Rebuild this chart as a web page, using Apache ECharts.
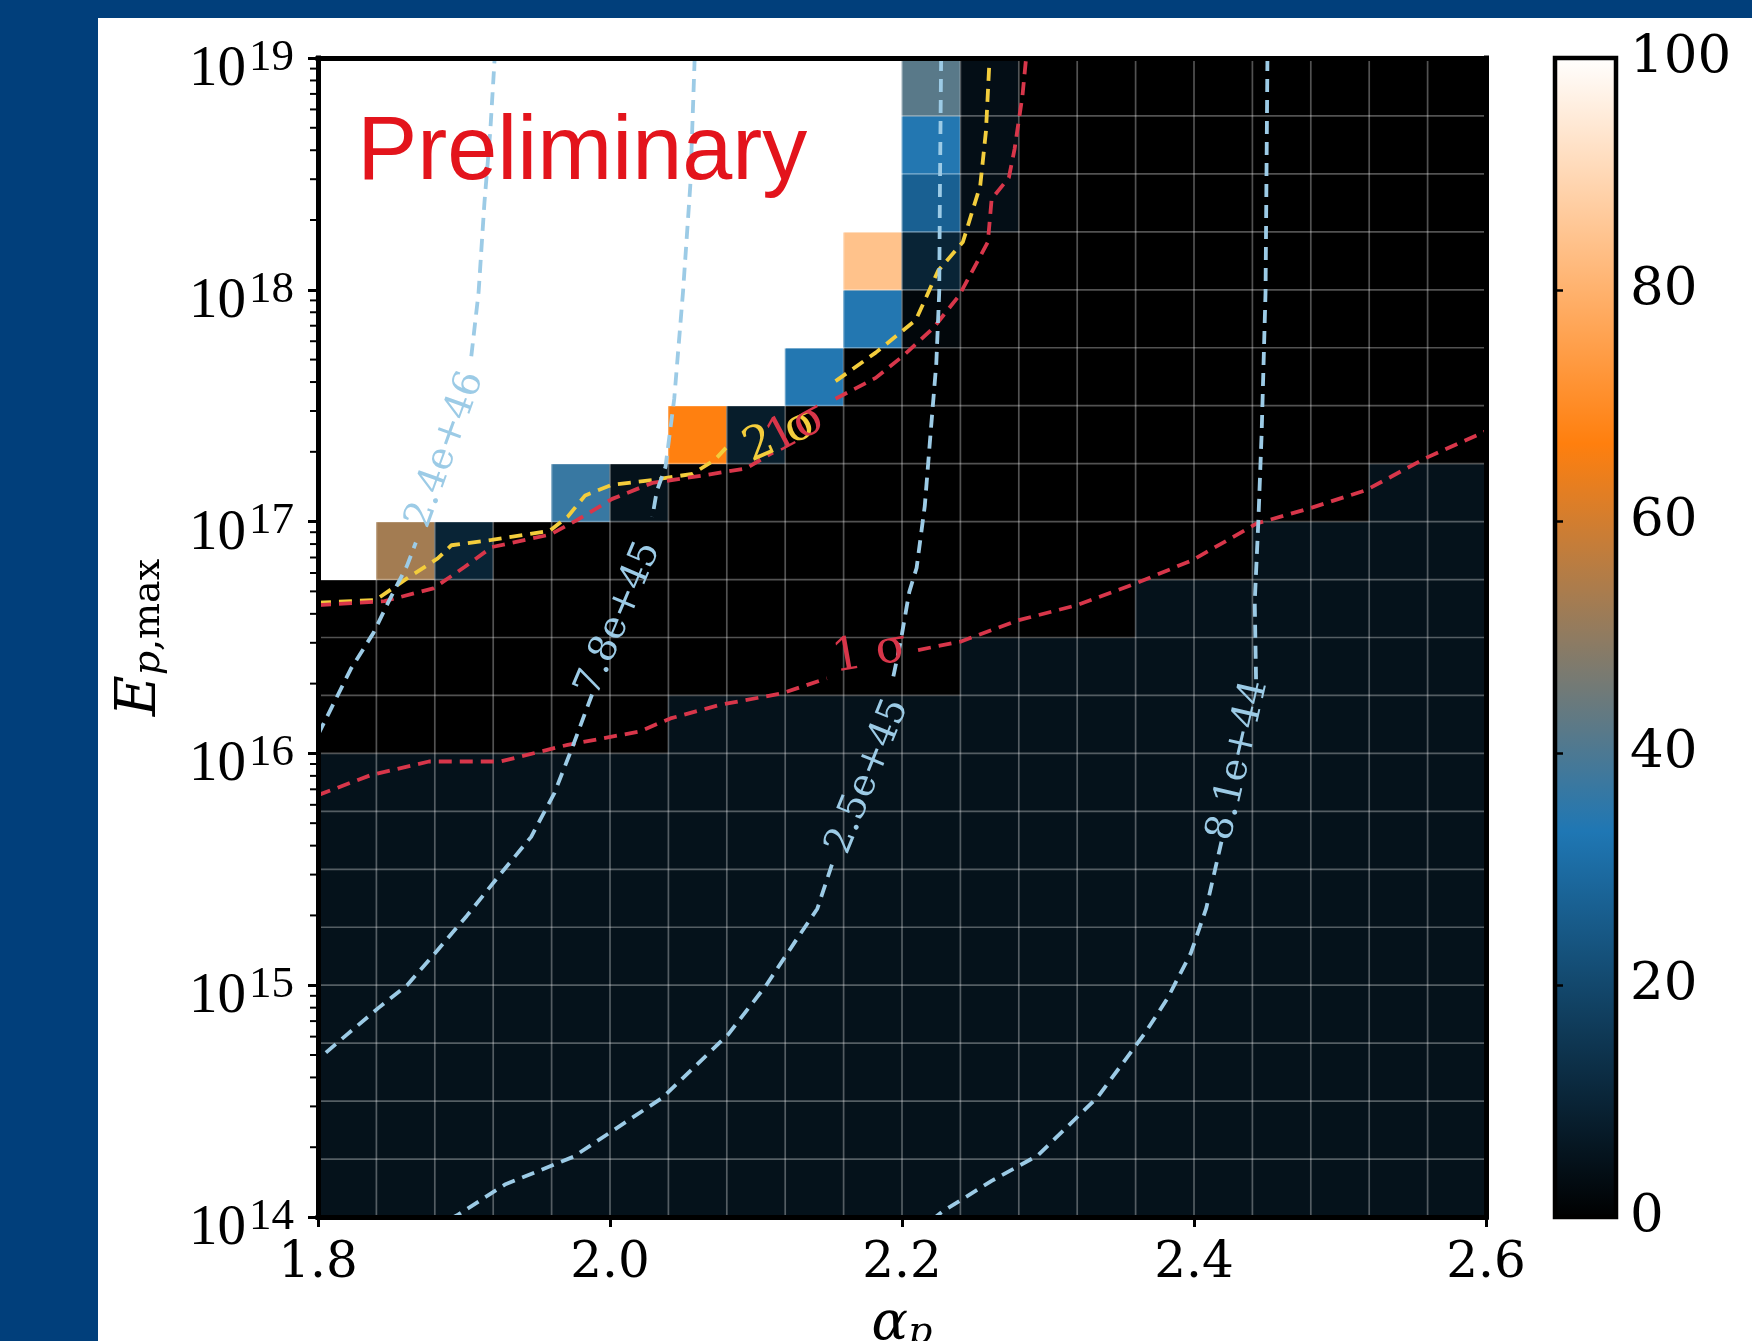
<!DOCTYPE html>
<html><head><meta charset="utf-8">
<script src="https://cdn.jsdelivr.net/npm/echarts@6/dist/echarts.min.js"></script>
<style>
html,body{margin:0;padding:0;width:1752px;height:1341px;background:#013f7b;overflow:hidden;}
#chart{position:absolute;left:98px;top:18px;width:1654px;height:1323px;background:#ffffff;}
</style></head><body><div id="chart"></div>
<script>
// ---------------- data ----------------
const alphaCenters = [1.82,1.86,1.90,1.94,1.98,2.02,2.06,2.10,2.14,2.18,2.22,2.26,2.30,2.34,2.38,2.42,2.46,2.50,2.54,2.58];
const logECenters = [14.125,14.375,14.625,14.875,15.125,15.375,15.625,15.875,16.125,16.375,16.625,16.875,17.125,17.375,17.625,17.875,18.125,18.375,18.625,18.875];
// rows listed from top (logE 18.875) to bottom (logE 14.125), columns alpha 1.82 .. 2.58
const cellValues = [
  [100,100,100,100,100,100,100,100,100,100,42,4,0,0,0,0,0,0,0,0],
  [100,100,100,100,100,100,100,100,100,100,34,4,0,0,0,0,0,0,0,0],
  [100,100,100,100,100,100,100,100,100,100,27,4,0,0,0,0,0,0,0,0],
  [100,100,100,100,100,100,100,100,100,84,10,0,0,0,0,0,0,0,0,0],
  [100,100,100,100,100,100,100,100,100,34,2,0,0,0,0,0,0,0,0,0],
  [100,100,100,100,100,100,100,100,34,0,0,0,0,0,0,0,0,0,0,0],
  [100,100,100,100,100,100,67,8,0,0,0,0,0,0,0,0,0,0,0,0],
  [100,100,100,100,37,5,0,0,0,0,0,0,0,0,0,0,0,0,5,5],
  [100,53,10,0,0,0,0,0,0,0,0,0,0,0,0,0,5,5,5,5],
  [0,0,0,0,0,0,0,0,0,0,0,0,0,0,5,5,5,5,5,5],
  [0,0,0,0,0,0,0,0,0,0,0,5,5,5,5,5,5,5,5,5],
  [0,0,0,0,0,0,5,5,5,5,5,5,5,5,5,5,5,5,5,5],
  [5,5,5,5,5,5,5,5,5,5,5,5,5,5,5,5,5,5,5,5],
  [5,5,5,5,5,5,5,5,5,5,5,5,5,5,5,5,5,5,5,5],
  [5,5,5,5,5,5,5,5,5,5,5,5,5,5,5,5,5,5,5,5],
  [5,5,5,5,5,5,5,5,5,5,5,5,5,5,5,5,5,5,5,5],
  [5,5,5,5,5,5,5,5,5,5,5,5,5,5,5,5,5,5,5,5],
  [5,5,5,5,5,5,5,5,5,5,5,5,5,5,5,5,5,5,5,5],
  [5,5,5,5,5,5,5,5,5,5,5,5,5,5,5,5,5,5,5,5],
  [5,5,5,5,5,5,5,5,5,5,5,5,5,5,5,5,5,5,5,5]
];
const alphaEdges = [1.84,1.88,1.92,1.96,2.00,2.04,2.08,2.12,2.16,2.20,2.24,2.28,2.32,2.36,2.40,2.44,2.48,2.52,2.56];
const logEEdges = [14.25,14.5,14.75,15,15.25,15.5,15.75,16,16.25,16.5,16.75,17,17.25,17.5,17.75,18,18.25,18.5,18.75];
const xTicks = [1.8,2.0,2.2,2.4,2.6];
const yDecades = [14,15,16,17,18,19];
const minorMultipliers = [2,3,4,5,6,7,8,9];
const colorbarTicks = [0,20,40,60,80,100];

// iso-contours (alpha, log10 E); null = gap left for the inline label
const contour24e46 = [[1.800,16.08],[1.8227,16.367],[1.838,16.52],[1.8486,16.658],[1.861,16.81],[1.867,16.91],null,[1.905,17.713],[1.910,17.99],[1.914,18.376],[1.918,18.684],[1.921,19.0]];
const contour78e45 = [[2.058,19.0],[2.055,18.45],[2.050,17.99],[2.044,17.53],[2.038,17.236],[2.032,17.13],[2.029,17.02],null,[1.9877,16.254],[1.974,16.023],[1.962,15.83],[1.946,15.64],[1.925,15.48],[1.902,15.30],[1.879,15.13],[1.861,15.0],[1.841,14.90],[1.820,14.788],[1.800,14.68]];
const contour25e45 = [[2.2268,19.0],[2.226,18.45],[2.2255,17.99],[2.2235,17.683],[2.2195,17.375],[2.2156,17.067],[2.210,16.80],[2.205,16.697],[2.199,16.48],[2.194,16.33],null,[2.152,15.52],[2.142,15.33],[2.127,15.19],[2.107,15.0],[2.081,14.788],[2.036,14.515],[1.975,14.26],[1.928,14.14],[1.896,14.01],[1.893,14.0]];
const contour81e44 = [[2.4503,19.0],[2.449,17.99],[2.4463,17.375],[2.444,16.99],[2.4416,16.654],[2.4425,16.32],null,[2.4188,15.619],[2.4083,15.33],[2.3978,15.138],[2.382,14.945],[2.3663,14.792],[2.334,14.517],[2.2929,14.265],[2.2614,14.156],[2.2274,14.022],[2.223,14.0]];
const sigma1Lower = [[1.8,15.82],[1.8364,15.907],[1.876,15.965],[1.925,15.965],[1.971,16.037],[2.02,16.094],[2.0414,16.151],[2.075,16.209],[2.1178,16.259],[2.1485,16.324],null,[2.211,16.446],[2.24,16.482],[2.28,16.575],[2.32,16.64],[2.36,16.733],[2.399,16.834],[2.443,16.992],[2.479,17.057],[2.518,17.136],[2.558,17.272],[2.6,17.39]];
const sigma1Upper = [[1.8,16.64],[1.8456,16.657],[1.879,16.712],[1.9006,16.805],[1.919,16.89],[1.959,16.944],[1.977,17.005],[2.0015,17.098],[2.029,17.167],[2.0627,17.198],[2.093,17.229],[2.1116,17.298],null,[2.1545,17.53],[2.182,17.62],[2.2004,17.713],[2.2217,17.837],[2.2391,17.975],[2.251,18.114],[2.2588,18.206],[2.2614,18.392],[2.2732,18.484],[2.2771,18.607],[2.2825,18.837],[2.285,19.0]];
const sigma2Upper = [[1.8,16.65],[1.8395,16.662],[1.861,16.755],[1.882,16.841],[1.8914,16.898],[1.919,16.921],[1.9587,16.96],[1.971,17.021],[1.983,17.113],[2.0015,17.159],[2.032,17.182],[2.0566,17.206],[2.0719,17.267],[2.081,17.329],null,[2.1545,17.606],[2.182,17.729],[2.2095,17.87],[2.2248,18.083],[2.2417,18.206],[2.2536,18.45],[2.2575,18.684],[2.26,19.0]];

// inline labels: text and anchor (alpha, log10 E)
const isoLabelTexts = ['2.4e+46','7.8e+45','2.5e+45','8.1e+44'];
const isoLabelAnchors = [[1.8874,17.31],[2.006,16.58],[2.1768,15.90],[2.4305,15.97]];
const sigmaLabelTexts = ['2 σ','1σ','1 σ'];
const sigmaLabelAnchors = [[2.117,17.37],[2.128,17.40],[2.178,16.43]];
const annotationText = 'Preliminary';
const annotationAnchor = [1.981,18.585];

// ---------------- styles ----------------
const cmapColors = ['#000000','#1f77b4','#ff7f0e','#ffffff'];
const isoColor = '#9ccbe6';
const redColor = '#d8364a';
const yellowColor = '#f3cd3c';
const isoAngles = [70,67,68,77];
const sigmaColors = [yellowColor, redColor, redColor];
const sigmaAngles = [24,28,10];
const serif = 'DejaVu Serif';

const cellHalfW = (alphaCenters[1]-alphaCenters[0])/2;
const cellHalfH = (logECenters[1]-logECenters[0])/2;
const X0 = xTicks[0], X1 = xTicks[xTicks.length-1];
const Y0 = Math.pow(10, yDecades[0]), Y1 = Math.pow(10, yDecades[yDecades.length-1]);

const cellData = [];
for (let r = 0; r < logECenters.length; r++) {
  const row = cellValues[logECenters.length - 1 - r];
  for (let c = 0; c < alphaCenters.length; c++) {
    cellData.push([alphaCenters[c], Math.pow(10, logECenters[r]), row[c]]);
  }
}

function toXY(pts) { return pts.map(p => p === null ? null : [p[0], Math.pow(10, p[1])]); }
function lineSeries(pts, color, name) {
  const out = []; let seg = [];
  toXY(pts).forEach(p => { if (p === null) { out.push(seg); seg = []; } else seg.push(p); });
  out.push(seg);
  return out.map((s, k) => ({
    type:'line', name: name + '_' + k, xAxisIndex:0, yAxisIndex:0, data:s, symbol:'none',
    silent:true, z:5, clip:true,
    lineStyle:{color:color, width:3.8, type:[13,8]}
  }));
}

const series = [];
// 0: cells
series.push({
  type:'custom', name:'cells', xAxisIndex:0, yAxisIndex:0, z:1, silent:true,
  dimensions:['alpha','E','value'], encode:{x:0, y:1},
  data: cellData,
  renderItem: function (params, api) {
    const a = api.value(0), l = Math.log10(api.value(1));
    const p0 = api.coord([a - cellHalfW, Math.pow(10, l + cellHalfH)]);
    const p1 = api.coord([a + cellHalfW, Math.pow(10, l - cellHalfH)]);
    return {type:'rect', shape:{x:p0[0]-0.4, y:p0[1]-0.4, width:p1[0]-p0[0]+0.8, height:p1[1]-p0[1]+0.8},
      style:{fill: api.visual('color')}};
  }
});
// grid lines over the cells
series.push({
  type:'custom', name:'vgrid', xAxisIndex:0, yAxisIndex:0, z:3, silent:true,
  data: alphaEdges.map(v => [v, Y0]), encode:{x:0, y:1},
  renderItem: function (params, api) {
    const a = api.coord([api.value(0), Y0]), b = api.coord([api.value(0), Y1]);
    return {type:'line', shape:{x1:a[0], y1:a[1], x2:b[0], y2:b[1]}, style:{stroke:'rgba(255,255,255,0.32)', lineWidth:1.7}};
  }
});
series.push({
  type:'custom', name:'hgrid', xAxisIndex:0, yAxisIndex:0, z:3, silent:true,
  data: logEEdges.map(v => [X0, Math.pow(10, v)]), encode:{x:0, y:1},
  renderItem: function (params, api) {
    const a = api.coord([X0, api.value(1)]), b = api.coord([X1, api.value(1)]);
    return {type:'line', shape:{x1:a[0], y1:a[1], x2:b[0], y2:b[1]}, style:{stroke:'rgba(255,255,255,0.32)', lineWidth:1.7}};
  }
});
// minor log ticks on the left spine
const minorTickData = [];
yDecades.slice(0, -1).forEach(d => minorMultipliers.forEach(m => minorTickData.push([X0, m * Math.pow(10, d)])));
series.push({
  type:'custom', name:'minorTicks', xAxisIndex:0, yAxisIndex:0, z:12, silent:true,
  data: minorTickData, encode:{x:0, y:1},
  renderItem: function (params, api) {
    const p = api.coord([X0, api.value(1)]);
    return {type:'line', shape:{x1:p[0]-2, y1:p[1], x2:p[0]-8, y2:p[1]}, style:{stroke:'#000', lineWidth:2}};
  }
});
// contour lines
[].concat(
  lineSeries(sigma2Upper, yellowColor, 'sig2'),
  lineSeries(sigma1Upper, redColor, 'sig1u'),
  lineSeries(sigma1Lower, redColor, 'sig1l'),
  lineSeries(contour24e46, isoColor, 'c1'),
  lineSeries(contour78e45, isoColor, 'c2'),
  lineSeries(contour25e45, isoColor, 'c3'),
  lineSeries(contour81e44, isoColor, 'c4')
).forEach(s => series.push(s));
// labels
const labelData = [];
isoLabelTexts.forEach((t, i) => labelData.push({
  value:[isoLabelAnchors[i][0], Math.pow(10, isoLabelAnchors[i][1])],
  label:{show:true, position:'inside', formatter:t, rotate:isoAngles[i], color:isoColor, fontFamily:serif, fontSize:38}
}));
sigmaLabelTexts.forEach((t, i) => labelData.push({
  value:[sigmaLabelAnchors[i][0], Math.pow(10, sigmaLabelAnchors[i][1])],
  label:{show:true, position:'inside', formatter:t, rotate:sigmaAngles[i], color:sigmaColors[i], fontFamily:serif, fontSize:46}
}));
labelData.push({
  value:[annotationAnchor[0], Math.pow(10, annotationAnchor[1])],
  label:{show:true, position:'inside', formatter:annotationText, color:'#e3141c', fontFamily:'Liberation Sans', fontSize:90}
});
series.push({
  type:'scatter', name:'labels', xAxisIndex:0, yAxisIndex:0, z:8, silent:true,
  symbolSize:1, itemStyle:{color:'rgba(0,0,0,0)', opacity:1}, data:labelData, labelLayout:{hideOverlap:false}
});
// colorbar
const n = cmapColors.length;
const cbStops = cmapColors.map((c, i) => ({offset: 1 - i/(n-1), color:c})).reverse();
series.push({
  type:'custom', name:'colorbar', xAxisIndex:2, yAxisIndex:2, z:4, silent:true,
  data:[[0, colorbarTicks[0]]], encode:{x:0, y:1},
  renderItem: function (params, api) {
    const p0 = api.coord([0, colorbarTicks[colorbarTicks.length-1]]);
    const p1 = api.coord([1, colorbarTicks[0]]);
    return {type:'rect', shape:{x:p0[0], y:p0[1], width:p1[0]-p0[0], height:p1[1]-p0[1]},
      style:{fill:new echarts.graphic.LinearGradient(0,0,0,1,cbStops), stroke:'#000', lineWidth:4.5}};
  }
});

const spine = {show:true, lineStyle:{color:'#000', width:5, cap:'square'}};
const option = {
  animation:false,
  backgroundColor:'#ffffff',
  grid:[
    {left:220, top:40, width:1168, height:1159, outerBoundsMode:'none', containLabel:false},
    {left:1457, top:40, width:61, height:1159, outerBoundsMode:'none', containLabel:false}
  ],
  visualMap:{type:'continuous', show:false, seriesIndex:0, dimension:2, min:0, max:100, inRange:{color:cmapColors}},
  xAxis:[
    {gridIndex:0, type:'value', min:X0, max:X1, interval:0.2, position:'bottom', z:10,
     axisLine:spine, axisTick:{show:true, length:10, lineStyle:{color:'#000', width:3}},
     axisLabel:{color:'#000', fontFamily:serif, fontSize:50, margin:22, formatter:v => v.toFixed(1)},
     splitLine:{show:false},
     name:'{a|α}{s|p}', nameLocation:'middle', nameGap:81,
     nameTextStyle:{rich:{a:{fontFamily:serif, fontStyle:'italic', fontSize:54, color:'#000'},
       s:{fontFamily:serif, fontStyle:'italic', fontSize:38, color:'#000', verticalAlign:'bottom', lineHeight:22}}}},
    {gridIndex:0, type:'value', min:X0, max:X1, position:'top', z:10, axisLine:spine,
     axisTick:{show:false}, axisLabel:{show:false}, splitLine:{show:false}},
    {gridIndex:1, type:'value', min:0, max:1, show:false}
  ],
  yAxis:[
    {gridIndex:0, type:'log', logBase:10, min:Y0, max:Y1, splitNumber:5, position:'left', z:10,
     axisLine:spine, axisTick:{show:true, length:10, lineStyle:{color:'#000', width:3}},
     minorTick:{show:false}, splitLine:{show:false},
     axisLabel:{margin:24, formatter:v => '{b|10}{s|' + Math.round(Math.log10(v)) + '}',
       rich:{b:{fontFamily:'Liberation Serif', fontSize:57, color:'#000', lineHeight:57, verticalAlign:'top', padding:[12,0,0,0]},
             s:{fontFamily:'Liberation Serif', fontSize:45, color:'#000', lineHeight:32, verticalAlign:'top', padding:[6,0,0,3]}}},
     name:'{e|E}{p|p}{s|,max}', nameLocation:'middle', nameGap:150,
     nameTextStyle:{rich:{e:{fontFamily:serif, fontStyle:'italic', fontSize:56, color:'#000', lineHeight:56},
       p:{fontFamily:serif, fontStyle:'italic', fontSize:38, color:'#000', verticalAlign:'bottom', lineHeight:22},
       s:{fontFamily:serif, fontSize:38, color:'#000', verticalAlign:'bottom', lineHeight:22}}}},
    {gridIndex:0, type:'log', logBase:10, min:Y0, max:Y1, position:'right', z:10, axisLine:spine,
     axisTick:{show:false}, axisLabel:{show:false}, splitLine:{show:false}},
    {gridIndex:1, type:'value', min:0, max:100, interval:20, position:'right', z:10,
     axisLine:{show:false}, axisTick:{show:true, length:8, lineStyle:{color:'#000', width:2.5}},
     axisLabel:{color:'#000', fontFamily:serif, fontSize:53, margin:14}, splitLine:{show:false}}
  ],
  series:series
};
const chart = echarts.init(document.getElementById('chart'));
chart.setOption(option);
</script></body></html>
